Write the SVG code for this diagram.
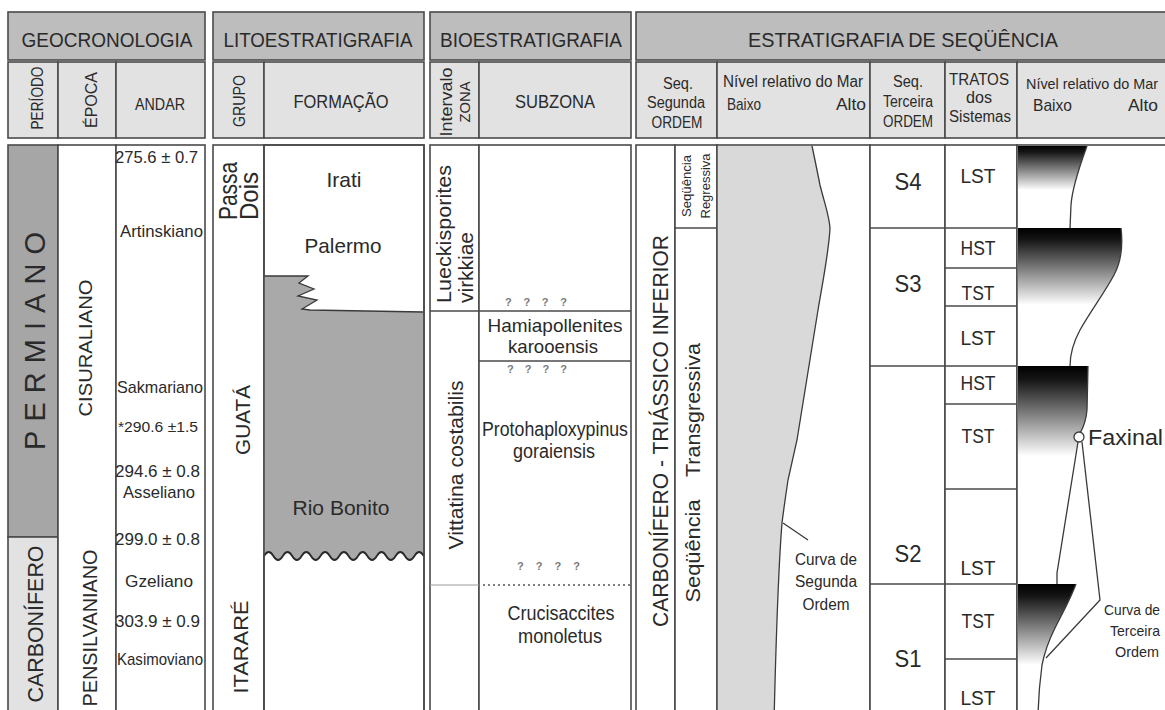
<svg xmlns="http://www.w3.org/2000/svg" width="1165" height="710" viewBox="0 0 1165 710">
<style>
.h1{fill:#bdbdbd;stroke:#4a4a4a;stroke-width:1.6}
.h2{fill:#e2e2e2;stroke:#4a4a4a;stroke-width:1.6}
.bx{fill:#fff;stroke:#4a4a4a;stroke-width:1.6}
.ln{stroke:#4a4a4a;stroke-width:1.5;fill:none}
.cv{stroke:#3a3a3a;stroke-width:1.3;fill:none}
text{font-family:"Liberation Sans Narrow","Liberation Sans",Arial,sans-serif;fill:#2a2a2a}
.m{text-anchor:middle}
.q{fill:#7a7a7a;font-weight:bold;font-size:11px}
</style>
<defs>
<linearGradient id="g4" gradientUnits="userSpaceOnUse" x1="0" y1="145" x2="0" y2="190"><stop offset="0" stop-color="#000"/><stop offset="0.15" stop-color="#151515"/><stop offset="1" stop-color="#fff"/></linearGradient>
<linearGradient id="g3" gradientUnits="userSpaceOnUse" x1="0" y1="228" x2="0" y2="305"><stop offset="0" stop-color="#000"/><stop offset="0.15" stop-color="#151515"/><stop offset="1" stop-color="#fff"/></linearGradient>
<linearGradient id="g2" gradientUnits="userSpaceOnUse" x1="0" y1="366" x2="0" y2="456"><stop offset="0" stop-color="#000"/><stop offset="0.15" stop-color="#151515"/><stop offset="1" stop-color="#fff"/></linearGradient>
<linearGradient id="g1" gradientUnits="userSpaceOnUse" x1="0" y1="584" x2="0" y2="665"><stop offset="0" stop-color="#000"/><stop offset="0.15" stop-color="#151515"/><stop offset="1" stop-color="#fff"/></linearGradient>
</defs>
<rect width="1165" height="710" fill="#fff"/>

<g id="header">
<rect class="h1" x="8" y="12" width="197" height="48"/>
<rect class="h1" x="213" y="12" width="211" height="48"/>
<rect class="h1" x="430" y="12" width="201" height="48"/>
<rect class="h1" x="636" y="12" width="540" height="48"/>
<text x="107" y="47" class="m" font-size="21" textLength="171" lengthAdjust="spacingAndGlyphs">GEOCRONOLOGIA</text>
<text x="318" y="47" class="m" font-size="21" textLength="189" lengthAdjust="spacingAndGlyphs">LITOESTRATIGRAFIA</text>
<text x="531" y="47" class="m" font-size="21" textLength="182" lengthAdjust="spacingAndGlyphs">BIOESTRATIGRAFIA</text>
<text x="903" y="47" class="m" font-size="21" textLength="310" lengthAdjust="spacingAndGlyphs">ESTRATIGRAFIA  DE  SEQÜÊNCIA</text>

<rect class="h2" x="8" y="62" width="50" height="76"/>
<rect class="h2" x="58" y="62" width="58" height="76"/>
<rect class="h2" x="116" y="62" width="89" height="76"/>
<rect class="h2" x="213" y="62" width="51" height="76"/>
<rect class="h2" x="264" y="62" width="160" height="76"/>
<rect class="h2" x="430" y="62" width="49" height="76"/>
<rect class="h2" x="479" y="62" width="152" height="76"/>
<rect class="h2" x="636" y="62" width="81" height="76"/>
<rect class="h2" x="717" y="62" width="153" height="76"/>
<rect class="h2" x="870" y="62" width="75" height="76"/>
<rect class="h2" x="945" y="62" width="72" height="76"/>
<rect class="h2" x="1017" y="62" width="160" height="76"/>

<text transform="translate(43,98) rotate(-90)" class="m" font-size="16" textLength="63" lengthAdjust="spacingAndGlyphs">PERÍODO</text>
<text transform="translate(97,100) rotate(-90)" class="m" font-size="16" textLength="56" lengthAdjust="spacingAndGlyphs">ÉPOCA</text>
<text x="160" y="110" class="m" font-size="16" textLength="50" lengthAdjust="spacingAndGlyphs">ANDAR</text>
<text transform="translate(245,101) rotate(-90)" class="m" font-size="16" textLength="52" lengthAdjust="spacingAndGlyphs">GRUPO</text>
<text x="341" y="108" class="m" font-size="19" textLength="95" lengthAdjust="spacingAndGlyphs">FORMAÇÃO</text>
<text transform="translate(452,102) rotate(-90)" class="m" font-size="16" textLength="69" lengthAdjust="spacingAndGlyphs">Intervalo</text>
<text transform="translate(470,102) rotate(-90)" class="m" font-size="15" textLength="41" lengthAdjust="spacingAndGlyphs">ZONA</text>
<text x="555" y="108" class="m" font-size="19" textLength="80" lengthAdjust="spacingAndGlyphs">SUBZONA</text>
<text x="678" y="89" class="m" font-size="16" textLength="30" lengthAdjust="spacingAndGlyphs">Seq.</text>
<text x="676" y="108" class="m" font-size="16" textLength="58" lengthAdjust="spacingAndGlyphs">Segunda</text>
<text x="677" y="128" class="m" font-size="16" textLength="51" lengthAdjust="spacingAndGlyphs">ORDEM</text>
<text x="723" y="87" font-size="16" textLength="140" lengthAdjust="spacingAndGlyphs">Nível relativo do Mar</text>
<text x="727" y="110" font-size="17" textLength="34" lengthAdjust="spacingAndGlyphs">Baixo</text>
<text x="866" y="110" font-size="17" text-anchor="end" textLength="30" lengthAdjust="spacingAndGlyphs">Alto</text>
<text x="908" y="87" class="m" font-size="16" textLength="30" lengthAdjust="spacingAndGlyphs">Seq.</text>
<text x="908" y="107" class="m" font-size="16" textLength="50" lengthAdjust="spacingAndGlyphs">Terceira</text>
<text x="908" y="127" class="m" font-size="16" textLength="50" lengthAdjust="spacingAndGlyphs">ORDEM</text>
<text x="979" y="85" class="m" font-size="16" textLength="60" lengthAdjust="spacingAndGlyphs">TRATOS</text>
<text x="979" y="103" class="m" font-size="16" textLength="26" lengthAdjust="spacingAndGlyphs">dos</text>
<text x="980" y="122" class="m" font-size="16" textLength="62" lengthAdjust="spacingAndGlyphs">Sistemas</text>
<text x="1026" y="89" font-size="15" textLength="132" lengthAdjust="spacingAndGlyphs">Nível relativo do Mar</text>
<text x="1033" y="111" font-size="17" textLength="39" lengthAdjust="spacingAndGlyphs">Baixo</text>
<text x="1158" y="111" font-size="17" text-anchor="end" textLength="30" lengthAdjust="spacingAndGlyphs">Alto</text>
</g>

<g id="geocronologia">
<rect x="8" y="145" width="50" height="392" fill="#a6a6a6" stroke="#4a4a4a" stroke-width="1.6"/>
<rect x="8" y="537" width="50" height="185" fill="#e2e2e2" stroke="#4a4a4a" stroke-width="1.6"/>
<rect class="bx" x="58" y="145" width="58" height="577"/>
<rect class="bx" x="116" y="145" width="89" height="577"/>
<text transform="translate(45,341) rotate(-90)" class="m" font-size="29" textLength="218" lengthAdjust="spacing">PERMIANO</text>
<text transform="translate(43,624) rotate(-90)" class="m" font-size="22" textLength="157" lengthAdjust="spacingAndGlyphs">CARBONÍFERO</text>
<text transform="translate(92,348) rotate(-90)" class="m" font-size="19" textLength="137" lengthAdjust="spacingAndGlyphs">CISURALIANO</text>
<text transform="translate(97,628) rotate(-90)" class="m" font-size="20" textLength="157" lengthAdjust="spacingAndGlyphs">PENSILVANIANO</text>
<text x="115" y="163" font-size="17" textLength="83" lengthAdjust="spacingAndGlyphs">275.6 ± 0.7</text>
<text x="120" y="237" font-size="17" textLength="83" lengthAdjust="spacingAndGlyphs">Artinskiano</text>
<text x="117" y="393" font-size="17" textLength="86" lengthAdjust="spacingAndGlyphs">Sakmariano</text>
<text x="118" y="432" font-size="14" fill="#4a4a4a" textLength="80" lengthAdjust="spacingAndGlyphs">*290.6 ±1.5</text>
<text x="115" y="477" font-size="17" textLength="85" lengthAdjust="spacingAndGlyphs">294.6 ± 0.8</text>
<text x="123" y="498" font-size="17" textLength="72" lengthAdjust="spacingAndGlyphs">Asseliano</text>
<text x="115" y="545" font-size="17" textLength="85" lengthAdjust="spacingAndGlyphs">299.0 ± 0.8</text>
<text x="125" y="587" font-size="17" textLength="68" lengthAdjust="spacingAndGlyphs">Gzeliano</text>
<text x="115" y="627" font-size="17" textLength="85" lengthAdjust="spacingAndGlyphs">303.9 ± 0.9</text>
<text x="117" y="665" font-size="17" textLength="86" lengthAdjust="spacingAndGlyphs">Kasimoviano</text>
</g>

<g id="litoestratigrafia">
<rect class="bx" x="213" y="145" width="51" height="577"/>
<rect class="bx" x="264" y="145" width="160" height="577"/>
<path d="M264,276 L308,276 L299,283 L314,289 L298,296 L317,300 L302,309 L310,310 L423,312 L423,556 q-4.7,-8 -9.4,0 q-4.7,8 -9.4,0 q-4.7,-8 -9.4,0 q-4.7,8 -9.4,0 q-4.7,-8 -9.4,0 q-4.7,8 -9.4,0 q-4.7,-8 -9.4,0 q-4.7,8 -9.4,0 q-4.7,-8 -9.4,0 q-4.7,8 -9.4,0 q-4.7,-8 -9.4,0 q-4.7,8 -9.4,0 q-4.7,-8 -9.4,0 q-4.7,8 -9.4,0 q-4.7,-8 -9.4,0 q-4.7,8 -9.4,0 q-4.7,-8 -9.4,0 Z" fill="#a9a9a9" stroke="none"/>
<path class="cv" d="M264,276 L308,276 L299,283 L314,289 L298,296 L317,300 L302,309 L310,310 L423,312"/>
<path d="M264,556 q4.7,-8 9.4,0 q4.7,8 9.4,0 q4.7,-8 9.4,0 q4.7,8 9.4,0 q4.7,-8 9.4,0 q4.7,8 9.4,0 q4.7,-8 9.4,0 q4.7,8 9.4,0 q4.7,-8 9.4,0 q4.7,8 9.4,0 q4.7,-8 9.4,0 q4.7,8 9.4,0 q4.7,-8 9.4,0 q4.7,8 9.4,0 q4.7,-8 9.4,0 q4.7,8 9.4,0 q4.7,-8 9.4,0" fill="none" stroke="#2a2a2a" stroke-width="1.8"/>
<rect x="264" y="145" width="160" height="577" fill="none" stroke="#4a4a4a" stroke-width="1.6"/>
<text transform="translate(237,220) rotate(-90)" font-size="25" textLength="58" lengthAdjust="spacingAndGlyphs">Passa</text>
<text transform="translate(258,220) rotate(-90)" font-size="25" textLength="48" lengthAdjust="spacingAndGlyphs">Dois</text>
<text transform="translate(250,420) rotate(-90)" class="m" font-size="21" textLength="70" lengthAdjust="spacingAndGlyphs">GUATÁ</text>
<text transform="translate(248,647) rotate(-90)" class="m" font-size="21" textLength="93" lengthAdjust="spacingAndGlyphs">ITARARÉ</text>
<text x="344" y="187" class="m" font-size="21" textLength="35" lengthAdjust="spacingAndGlyphs">Irati</text>
<text x="343" y="253" class="m" font-size="21" textLength="77" lengthAdjust="spacingAndGlyphs">Palermo</text>
<text x="341" y="515" class="m" font-size="21" textLength="97" lengthAdjust="spacingAndGlyphs">Rio Bonito</text>
</g>

<g id="bioestratigrafia">
<rect class="bx" x="430" y="145" width="49" height="577"/>
<rect class="bx" x="479" y="145" width="152" height="577"/>
<line class="ln" x1="430" y1="311" x2="631" y2="311"/>
<line class="ln" x1="479" y1="361" x2="631" y2="361"/>
<line x1="430" y1="585" x2="479" y2="585" stroke="#9a9a9a" stroke-width="1"/>
<line x1="483" y1="585" x2="631" y2="585" stroke="#555" stroke-width="1.5" stroke-dasharray="2,3"/>
<text transform="translate(451,303) rotate(-90)" font-size="21" textLength="138" lengthAdjust="spacingAndGlyphs">Lueckisporites</text>
<text transform="translate(473,303) rotate(-90)" font-size="21" textLength="71" lengthAdjust="spacingAndGlyphs">virkkiae</text>
<text transform="translate(463,465) rotate(-90)" class="m" font-size="21" textLength="169" lengthAdjust="spacingAndGlyphs">Vittatina costabilis</text>
<text x="505" y="306" class="q" textLength="62" lengthAdjust="spacing">? ? ? ?</text>
<text x="507" y="373" class="q" textLength="60" lengthAdjust="spacing">? ? ? ?</text>
<text x="517" y="570" class="q" textLength="63" lengthAdjust="spacing">? ? ? ?</text>
<text x="555" y="332" class="m" font-size="19" textLength="135" lengthAdjust="spacingAndGlyphs">Hamiapollenites</text>
<text x="553" y="353" class="m" font-size="19" textLength="90" lengthAdjust="spacingAndGlyphs">karooensis</text>
<text x="555" y="436" class="m" font-size="20" textLength="146" lengthAdjust="spacingAndGlyphs">Protohaploxypinus</text>
<text x="554" y="458" class="m" font-size="20" textLength="82" lengthAdjust="spacingAndGlyphs">goraiensis</text>
<text x="561" y="620" class="m" font-size="20" textLength="107" lengthAdjust="spacingAndGlyphs">Crucisaccites</text>
<text x="560" y="643" class="m" font-size="20" textLength="84" lengthAdjust="spacingAndGlyphs">monoletus</text>
</g>

<g id="seq-segunda">
<rect class="bx" x="636" y="145" width="39" height="577"/>
<rect class="bx" x="675" y="145" width="42" height="577"/>
<line class="ln" x1="675" y1="228" x2="717" y2="228"/>
<text transform="translate(668,431) rotate(-90)" class="m" font-size="22" textLength="392" lengthAdjust="spacingAndGlyphs">CARBONÍFERO - TRIÁSSICO INFERIOR</text>
<text transform="translate(691,186) rotate(-90)" class="m" font-size="13" textLength="62" lengthAdjust="spacingAndGlyphs">Seqüência</text>
<text transform="translate(710,186) rotate(-90)" class="m" font-size="13" textLength="65" lengthAdjust="spacingAndGlyphs">Regressiva</text>
<text transform="translate(700,551) rotate(-90)" class="m" font-size="20" textLength="103" lengthAdjust="spacingAndGlyphs">Seqüência</text>
<text transform="translate(700,410) rotate(-90)" class="m" font-size="20" textLength="134" lengthAdjust="spacingAndGlyphs">Transgressiva</text>
</g>

<g id="nivel-segunda">
<rect class="bx" x="717" y="145" width="153" height="577"/>
<path d="M718,146 L812,146 C815,160 817,170 820,185 C825,205 829,215 830,228 C829,250 824,275 818,310 L797,440 L788,480 C785,500 783,515 782,523 C779,560 776,640 774,722 L718,722 Z" fill="#d9d9d9"/>
<path class="cv" d="M812,146 C815,160 817,170 820,185 C825,205 829,215 830,228 C829,250 824,275 818,310 L797,440 L788,480 C785,500 783,515 782,523 C779,560 776,640 774,722"/>
<line class="cv" x1="783" y1="523" x2="808" y2="540"/>
<text x="826" y="565" class="m" font-size="16" textLength="62" lengthAdjust="spacingAndGlyphs">Curva de</text>
<text x="826" y="587" class="m" font-size="16" textLength="62" lengthAdjust="spacingAndGlyphs">Segunda</text>
<text x="826" y="610" class="m" font-size="16" textLength="47" lengthAdjust="spacingAndGlyphs">Ordem</text>
</g>

<g id="seq-terceira">
<rect class="bx" x="870" y="145" width="75" height="577"/>
<rect class="bx" x="945" y="145" width="72" height="577"/>
<line class="ln" x1="870" y1="228" x2="1017" y2="228"/>
<line class="ln" x1="870" y1="366" x2="1017" y2="366"/>
<line class="ln" x1="870" y1="584" x2="1017" y2="584"/>
<line class="ln" x1="945" y1="268" x2="1017" y2="268"/>
<line class="ln" x1="945" y1="306" x2="1017" y2="306"/>
<line class="ln" x1="945" y1="404" x2="1017" y2="404"/>
<line class="ln" x1="945" y1="489" x2="1017" y2="489"/>
<line class="ln" x1="945" y1="659" x2="1017" y2="659"/>
<text x="908" y="190" class="m" font-size="23" textLength="27" lengthAdjust="spacingAndGlyphs">S4</text>
<text x="908" y="292" class="m" font-size="23" textLength="27" lengthAdjust="spacingAndGlyphs">S3</text>
<text x="908" y="562" class="m" font-size="23" textLength="27" lengthAdjust="spacingAndGlyphs">S2</text>
<text x="908" y="667" class="m" font-size="23" textLength="27" lengthAdjust="spacingAndGlyphs">S1</text>
<text x="978" y="183" class="m" font-size="20" textLength="35" lengthAdjust="spacingAndGlyphs">LST</text>
<text x="978" y="255" class="m" font-size="20" textLength="35" lengthAdjust="spacingAndGlyphs">HST</text>
<text x="978" y="300" class="m" font-size="20" textLength="33" lengthAdjust="spacingAndGlyphs">TST</text>
<text x="978" y="345" class="m" font-size="20" textLength="35" lengthAdjust="spacingAndGlyphs">LST</text>
<text x="978" y="390" class="m" font-size="20" textLength="35" lengthAdjust="spacingAndGlyphs">HST</text>
<text x="978" y="443" class="m" font-size="20" textLength="33" lengthAdjust="spacingAndGlyphs">TST</text>
<text x="978" y="575" class="m" font-size="20" textLength="35" lengthAdjust="spacingAndGlyphs">LST</text>
<text x="978" y="628" class="m" font-size="20" textLength="33" lengthAdjust="spacingAndGlyphs">TST</text>
<text x="978" y="705" class="m" font-size="20" textLength="35" lengthAdjust="spacingAndGlyphs">LST</text>
</g>

<g id="nivel-terceira">
<rect class="bx" x="1017" y="145" width="160" height="577"/>
<path d="M1018,146 L1087,146 C1080,165 1072,190 1071,205 L1070,228 L1018,228 Z" fill="url(#g4)"/>
<path d="M1018,228 L1121,228 C1123,245 1121,262 1114,275 C1105,292 1090,312 1080,330 C1073,343 1070,355 1070,366 L1018,366 Z" fill="url(#g3)"/>
<path d="M1018,366 L1088,366 L1087,410 C1086,422 1083,430 1079,437 L1057,573 L1057,584 L1018,584 Z" fill="url(#g2)"/>
<path d="M1018,584 L1076,584 C1070,600 1063,612 1055,628 C1048,642 1044,655 1042,665 C1040,680 1038,695 1038,722 L1018,722 Z" fill="url(#g1)"/>
<path class="cv" d="M1087,146 C1080,165 1072,190 1071,205 L1070,228 M1121,228 C1123,245 1121,262 1114,275 C1105,292 1090,312 1080,330 C1073,343 1070,355 1070,366 M1088,366 L1087,410 C1086,422 1083,428 1080,433 M1078,442 L1057,573 L1057,584 M1076,584 C1070,600 1063,612 1055,628 C1048,642 1044,655 1042,665 C1040,680 1038,695 1038,722"/>
<polyline class="cv" points="1082,442 1100,600 1046,658"/>
<circle cx="1079" cy="437" r="5" fill="#fff" stroke="#3a3a3a" stroke-width="1.3"/>
<text x="1088" y="445" font-size="22" textLength="75" lengthAdjust="spacingAndGlyphs">Faxinal</text>
<text x="1104" y="615" font-size="14" textLength="56" lengthAdjust="spacingAndGlyphs">Curva de</text>
<text x="1110" y="636" font-size="15" textLength="50" lengthAdjust="spacingAndGlyphs">Terceira</text>
<text x="1115" y="657" font-size="15" textLength="44" lengthAdjust="spacingAndGlyphs">Ordem</text>
</g>
</svg>
